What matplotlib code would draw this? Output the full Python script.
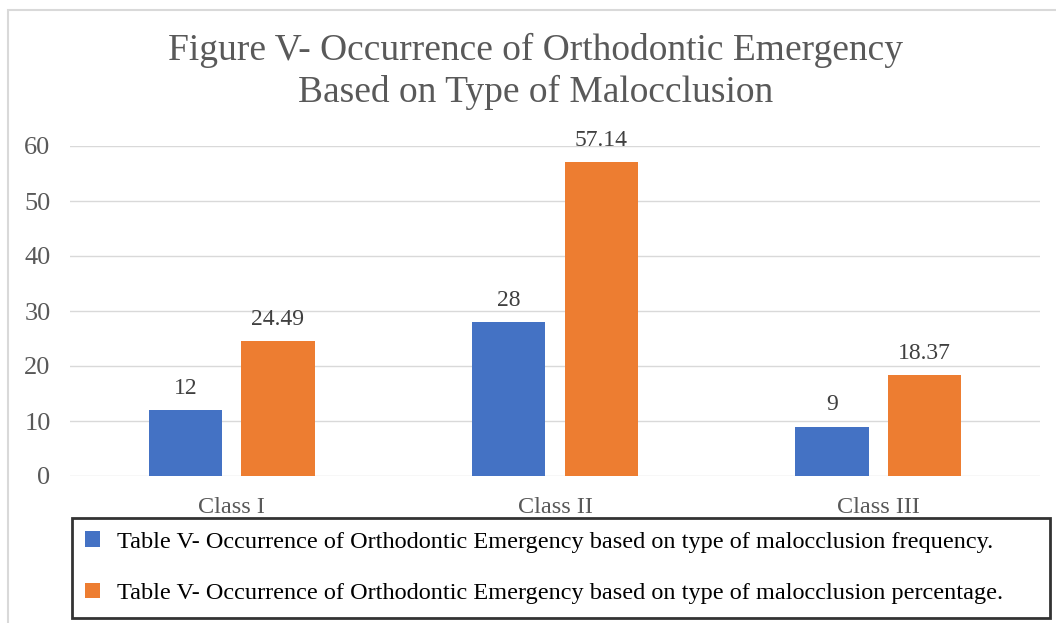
import matplotlib
matplotlib.use("Agg")
import matplotlib.pyplot as plt
from matplotlib.patches import Rectangle
import numpy as np

categorias = ["Class I", "Class II", "Class III"]
frecuencia = [12, 28, 9]
porcentaje = [24.49, 57.14, 18.37]
etiquetas_frec = ["12", "28", "9"]
etiquetas_pct = ["24.49", "57.14", "18.37"]
serie_frec = "Table V- Occurrence of Orthodontic Emergency based on type of malocclusion frequency."
serie_pct = "Table V- Occurrence of Orthodontic Emergency based on type of malocclusion percentage."
titulo = "Figure V- Occurrence of Orthodontic Emergency\nBased on Type of Malocclusion"

AZUL = "#4472c4"
NARANJA = "#ed7d31"
GRIS_TXT = "#595959"

plt.rcParams["font.family"] = ["Liberation Serif", "DejaVu Serif"]

W, H = 1056, 623
fig = plt.figure(figsize=(W / 100, H / 100), dpi=100)

# borde gris exterior
fig.patches.append(Rectangle((8 / W, -0.1), 1.2, 1 - 10 / H + 0.1,
                             transform=fig.transFigure, fill=False,
                             edgecolor="#d9d9d9", linewidth=1.5))

ax = fig.add_axes([70 / W, (H - 476) / H, (1040 - 70) / W, (476 - 146) / H])
x = np.arange(len(categorias))
ancho = 0.227
b1 = ax.bar(x - 0.143, frecuencia, ancho, color=AZUL, label=serie_frec, zorder=3)
b2 = ax.bar(x + 0.143, porcentaje, ancho, color=NARANJA, label=serie_pct, zorder=3)

for barras, textos in ((b1, etiquetas_frec), (b2, etiquetas_pct)):
    ax.bar_label(barras, labels=textos, padding=8, fontsize=17, color="#404040")

ax.set_xlim(-0.5, 2.5)
ax.set_ylim(0, 60)
ax.set_yticks(range(0, 61, 10))
ax.set_xticks(x, categorias)
ax.grid(axis="y", color="#d9d9d9", linewidth=1, zorder=0)
for s in ax.spines.values():
    s.set_visible(False)
ax.tick_params(axis="both", length=0, labelcolor=GRIS_TXT)
ax.tick_params(axis="y", pad=14, labelsize=19)
ax.tick_params(axis="x", pad=15, labelsize=17.5)

fig.text(536 / W, 1 - 71 / H, titulo, ha="center", va="center", fontsize=27,
         color=GRIS_TXT, linespacing=1.25)

leg = fig.legend(handles=[b1, b2], loc="upper left",
                 bbox_to_anchor=(72 / W, 1 - 518 / H - 0.01, (1050 - 72) / W, 0.01),
                 mode="expand", fontsize=17.5, frameon=True, fancybox=False,
                 handlelength=0.6, handleheight=0.6, handletextpad=0.7,
                 labelspacing=1.25, borderpad=0.55, borderaxespad=0)
leg.get_frame().set_edgecolor("black")
leg.get_frame().set_linewidth(2)
for t in leg.get_texts():
    t.set_color("black")

fig.savefig("out.png", dpi=100)
